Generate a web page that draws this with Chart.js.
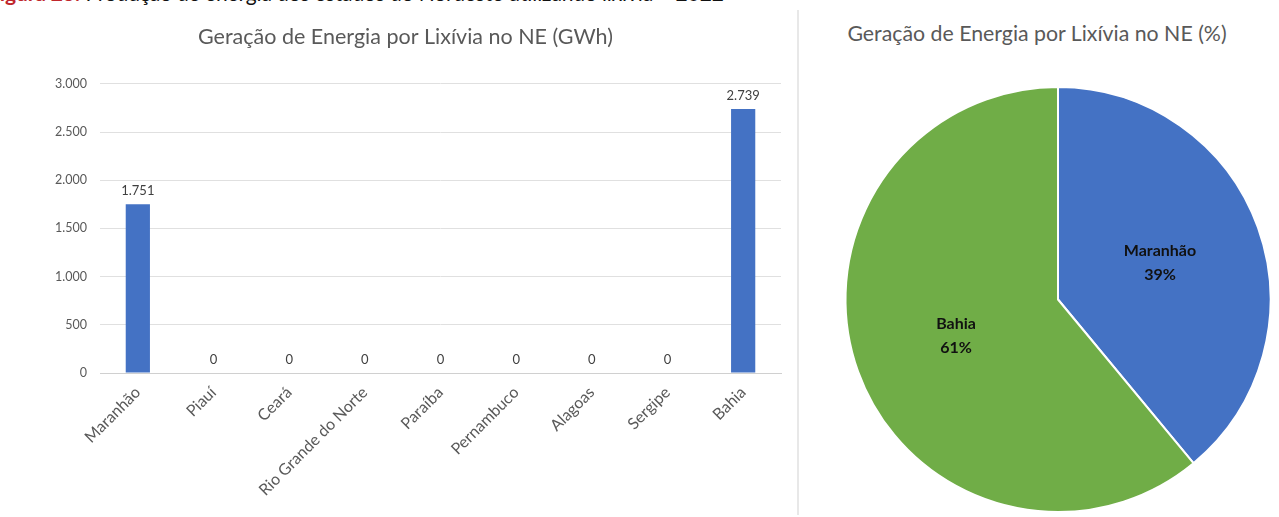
<!DOCTYPE html>
<html lang="pt-BR">
<head>
<meta charset="utf-8">
<title>Geração de Energia por Lixívia no NE</title>
<script src="https://cdn.jsdelivr.net/npm/chart.js@4.4.1/dist/chart.umd.min.js"></script>
<style>
  html, body { margin: 0; padding: 0; background: #fff; }
  body { width: 1279px; height: 517px; position: relative; overflow: hidden; font-family: Lato, "Open Sans", sans-serif; }
  .caption { position: absolute; left: -12px; top: -20px; font-size: 21px; letter-spacing: -0.12px; white-space: nowrap; color: #111; }
  .caption b { color: #c0272d; }
  .divider { position: absolute; left: 797px; top: 10px; width: 2px; height: 505px; background: #e8e8e8; }
  .pie-title { position: absolute; left: 800px; width: 474px; top: 20px; text-align: center; font-size: 21.3px; color: #595959; white-space: nowrap; }
  #barWrap { position: absolute; left: 0; top: 0; width: 797px; height: 517px; }
  #pieWrap { position: absolute; left: 800px; top: 0; width: 479px; height: 517px; }
</style>
</head>
<body>
<div class="caption"><b>Figura 23:</b> Produção de energia dos estados do Nordeste utilizando lixívia – 2022</div>
<div class="divider"></div>
<div id="barWrap"><canvas id="barChart"></canvas></div>
<div class="pie-title">Geração de Energia por Lixívia no NE (%)</div>
<div id="pieWrap"><canvas id="pieChart"></canvas></div>

<script>
  // Geração por estado (GWh)
  const states = ["Maranhão", "Piauí", "Ceará", "Rio Grande do Norte", "Paraíba",
                  "Pernambuco", "Alagoas", "Sergipe", "Bahia"];
  const generation = [1751, 0, 0, 0, 0, 0, 0, 0, 2739];
  const yTicks = [0, 500, 1000, 1500, 2000, 2500, 3000];

  // Só os estados com geração entram na pizza
  const pieStates = ["Maranhão", "Bahia"];
  const pieValues = [1751, 2739];
  const pieColors = ["#4472C4", "#70AD47"];

  const FONT = "Lato, 'Open Sans', sans-serif";

  // milhar com ponto, como no padrão brasileiro
  const fmt = v => String(Math.round(v)).replace(/\B(?=(\d{3})+(?!\d))/g, ".");

  // rótulos de valor em cima das barras
  const barLabels = {
    id: "barLabels",
    afterDatasetsDraw(chart) {
      const ctx = chart.ctx;
      const meta = chart.getDatasetMeta(0);
      ctx.save();
      ctx.font = "13px " + FONT;
      ctx.fillStyle = "#404040";
      ctx.textAlign = "center";
      ctx.textBaseline = "bottom";
      meta.data.forEach((bar, i) => {
        ctx.fillText(fmt(chart.data.datasets[0].data[i]), bar.x, bar.y - 7);
      });
      ctx.restore();
    }
  };

  // nome + percentual dentro de cada fatia
  const sliceLabels = {
    id: "sliceLabels",
    afterDatasetsDraw(chart) {
      const ctx = chart.ctx;
      const meta = chart.getDatasetMeta(0);
      const data = chart.data.datasets[0].data;
      const total = data.reduce((a, b) => a + b, 0);
      ctx.save();
      ctx.font = "bold 16px " + FONT;
      ctx.fillStyle = "#111";
      ctx.textAlign = "center";
      ctx.textBaseline = "middle";
      meta.data.forEach((arc, i) => {
        const mid = (arc.startAngle + arc.endAngle) / 2;
        const r = arc.outerRadius * 0.51;
        const x = arc.x + Math.cos(mid) * r;
        const y = arc.y + Math.sin(mid) * r;
        const pct = Math.round(data[i] / total * 100) + "%";
        ctx.fillText(chart.data.labels[i], x, y - 12);
        ctx.fillText(pct, x, y + 12);
      });
      ctx.restore();
    }
  };

  new Chart(document.getElementById("barChart"), {
    type: "bar",
    data: {
      labels: states,
      datasets: [{
        data: generation,
        backgroundColor: "#4472C4",
        categoryPercentage: 1,
        barPercentage: 0.32
      }]
    },
    options: {
      responsive: true,
      maintainAspectRatio: false,
      animation: false,
      layout: { padding: { left: 30, right: 16, top: 0, bottom: 0 } },
      plugins: {
        legend: { display: false },
        tooltip: { enabled: false },
        title: {
          display: true,
          text: "Geração de Energia por Lixívia no NE (GWh)",
          color: "#595959",
          font: { family: FONT, size: 21.5, weight: "normal" },
          padding: { top: 24, bottom: 34 }
        }
      },
      scales: {
        y: {
          min: 0,
          max: 3000,
          afterBuildTicks: s => { s.ticks = yTicks.map(v => ({ value: v })); },
          afterFit: s => { s.width = 70; },
          ticks: {
            color: "#595959",
            font: { family: FONT, size: 12.5 },
            padding: 13,
            callback: v => fmt(v)
          },
          grid: { color: "#e0e0e0", drawTicks: false },
          border: { display: false }
        },
        x: {
          afterFit: s => { s.height = 144; },
          ticks: {
            color: "#595959",
            font: { family: FONT, size: 16 },
            minRotation: 45,
            maxRotation: 45,
            autoSkip: false,
            padding: 2
          },
          grid: { display: false },
          border: { color: "#d0d0d0" }
        }
      }
    },
    plugins: [barLabels]
  });

  new Chart(document.getElementById("pieChart"), {
    type: "pie",
    data: {
      labels: pieStates,
      datasets: [{
        data: pieValues,
        backgroundColor: pieColors,
        borderColor: "#fff",
        borderWidth: 2
      }]
    },
    options: {
      responsive: true,
      maintainAspectRatio: false,
      animation: false,
      layout: { padding: { left: 44, right: 7, top: 86, bottom: 4 } },
      plugins: {
        legend: { display: false },
        tooltip: { enabled: false }
      }
    },
    plugins: [sliceLabels]
  });
</script>
</body>
</html>
